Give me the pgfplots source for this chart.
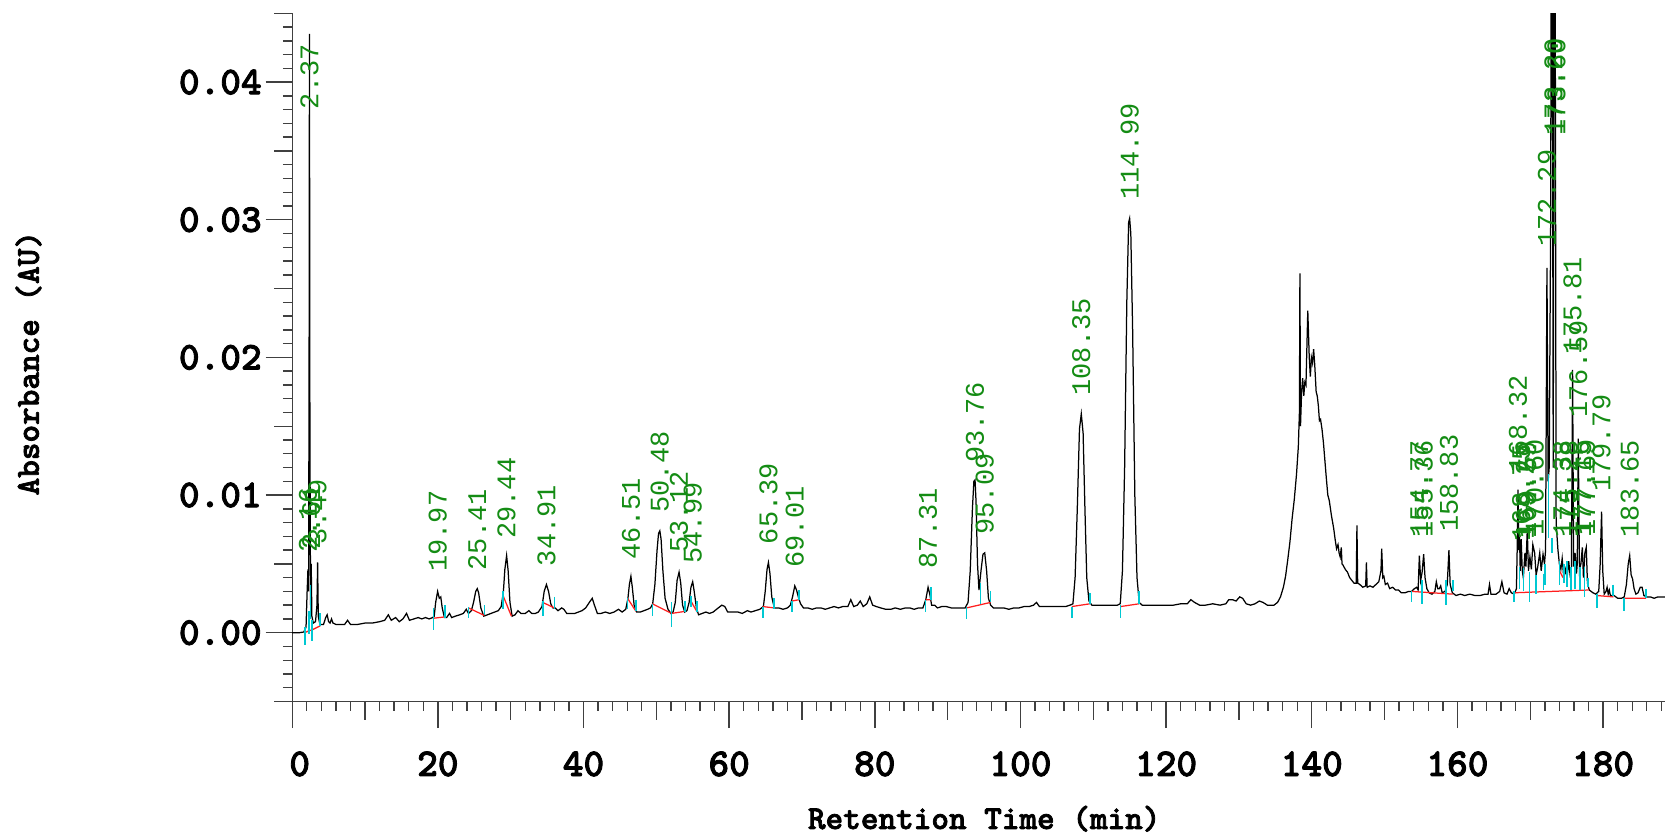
\documentclass[border=0pt]{standalone}
\usepackage{pgfplots}
\pgfplotsset{compat=1.18}
\usepackage{fontspec}
\newfontfamily\pkfont{Liberation Mono}
\newfontfamily\courb{lmmonolt10-bold}[Extension=.otf, FakeBold=2.2]
\definecolor{pkgreen}{RGB}{20,140,20}
\definecolor{mkcyan}{RGB}{0,200,210}
\definecolor{blred}{RGB}{255,30,30}
\begin{document}
\begin{tikzpicture}
\begin{axis}[
 at={(0,0)}, anchor=south west,
 width=494.7pt, height=248pt, scale only axis,
 xmin=0, xmax=188.5, ymin=-0.005, ymax=0.045,
 axis x line*=bottom, axis y line*=left,
 axis line style={black!75, line width=0.5pt},
 tick style={black!75, line width=0.5pt},
 tick align=outside,
 major tick length=9.6pt, minor tick length=3.4pt,
 xtick={0,20,...,180}, minor xtick={0,2,...,188},
 xticklabels={\hspace*{5.4pt}0,20,40,60,80,100,120,140,160,180},
 extra x ticks={10,30,50,70,90,110,130,150,170},
 extra x tick labels={},
 extra x tick style={major tick length=6.5pt},
 ytick={0,0.01,0.02,0.03,0.04},
 minor ytick={-0.005,-0.004,...,0.045},
 extra y ticks={-0.005,0.005,0.015,0.025,0.035,0.045},
 extra y tick labels={},
 extra y tick style={major tick length=6.5pt},
 scaled y ticks=false,
 /pgf/number format/assume math mode=true,
 tick label style={font=\courb\fontsize{14.2}{16}\selectfont},
 yticklabel style={/pgf/number format/fixed, /pgf/number format/fixed zerofill, /pgf/number format/precision=2, inner sep=0pt, xshift=-1.2pt},
 xticklabel style={inner sep=0pt, yshift=-8.2pt},
 xlabel={Retention Time (min)}, ylabel={Absorbance (AU)},
 label style={font=\courb\fontsize{12.1}{14}\selectfont},
 xlabel style={at={(axis description cs:0.5041,-0.1703)}, anchor=center},
 ylabel style={at={(axis description cs:-0.1921,0.4916)}, anchor=center},
 unbounded coords=jump,
]
% chromatogram trace
\addplot[black, line width=0.45pt] coordinates {
(0,0) (1.0,0) (1.6,0.00005) (1.9,0.0004) (2.05,0.003) (2.16,0.0046) (2.25,0.003) (2.32,0.02) (2.37,0.0435) (2.43,0.015) (2.52,0.002) (2.61,0.005) (2.70,0.0012) (2.9,0.0007) (3.2,0.0008) (3.40,0.002) (3.49,0.0051) (3.58,0.0012) (3.8,0.0006) (4.3,0.0006) (4.6,0.0011) (4.8,0.0013) (5.0,0.0008) (5.2,0.0007) (5.4,0.0010) (5.6,0.0007) (6.0,0.0006) (6.5,0.0006) (7.2,0.0006) (7.6,0.0009) (8.0,0.0006) (9,0.0006) (10,0.0007) (11,0.0007) (12,0.0008) (12.7,0.0009) (13.2,0.0013) (13.6,0.0009) (14.2,0.0011) (14.7,0.0008) (15.2,0.0010) (15.7,0.0014) (16.1,0.0009) (16.7,0.0010) (17.3,0.0011) (17.8,0.0010) (18.3,0.0011) (18.8,0.0010) (19.3,0.0011)
(19.5,0.0012) (19.7,0.0022) (19.97,0.0030) (20.2,0.0025) (20.4,0.0026) (20.6,0.0018) (20.9,0.0011) (21.2,0.0011) (21.6,0.0014) (21.9,0.0011) (22.4,0.0012) (23.0,0.0013) (23.5,0.0014) (23.9,0.0017) (24.2,0.0014) (24.6,0.0016) (24.9,0.0022) (25.2,0.0030) (25.41,0.0032) (25.6,0.0029) (25.9,0.0018) (26.3,0.0012) (26.8,0.0013) (27.3,0.0014) (27.8,0.0015) (28.3,0.0016) (28.7,0.0019) (29.0,0.0030) (29.2,0.0046) (29.44,0.0056) (29.65,0.0045) (29.9,0.0022) (30.2,0.0012) (30.6,0.0013) (31.0,0.0016) (31.4,0.0014) (32.0,0.0014) (32.5,0.0016) (32.9,0.0014) (33.4,0.0014) (33.8,0.0015) (34.3,0.0019) (34.6,0.0030) (34.91,0.0035) (35.2,0.0030) (35.5,0.0021) (35.8,0.0018) (36.1,0.0018) (36.5,0.0016) (37.0,0.0018)
(37.3,0.0017) (37.7,0.0014) (38.3,0.0014) (38.8,0.0014) (39.3,0.0015) (39.8,0.0016) (40.3,0.0018) (40.8,0.0022) (41.2,0.0025) (41.5,0.0020) (41.9,0.0014) (42.4,0.0014) (43.0,0.0015) (43.6,0.0014) (44.2,0.0015) (44.8,0.0017) (45.3,0.0015) (45.8,0.0017) (46.1,0.0025) (46.3,0.0035) (46.51,0.0041) (46.7,0.0033) (46.95,0.0020) (47.3,0.0015) (47.8,0.0015) (48.3,0.0016) (48.8,0.0017) (49.2,0.0018) (49.5,0.0021) (49.8,0.0035) (50.1,0.0060) (50.3,0.0072) (50.48,0.0074) (50.65,0.0068) (50.9,0.0045) (51.2,0.0025) (51.6,0.0017) (52.0,0.0014) (52.3,0.0015) (52.6,0.0022) (52.85,0.0038) (53.12,0.0044) (53.35,0.0036) (53.6,0.0020) (53.9,0.0015) (54.2,0.0016) (54.5,0.0022) (54.75,0.0033) (54.99,0.0037) (55.2,0.0030) (55.5,0.0018) (55.8,0.0013) (56.3,0.0014) (56.8,0.0015) (57.3,0.0014) (57.8,0.0015) (58.5,0.0018) (59.0,0.0020) (59.4,0.0019) (59.8,0.0015) (60.5,0.0015) (61.2,0.0015) (61.8,0.0014) (62.5,0.0016) (63.0,0.0015) (63.6,0.0016) (64.2,0.0017) (64.7,0.0019) (64.95,0.0030) (65.2,0.0046) (65.39,0.0051) (65.6,0.0043) (65.85,0.0026) (66.2,0.0018) (66.8,0.0018) (67.4,0.0017) (68.0,0.0018) (68.4,0.0020) (68.7,0.0026) (69.01,0.0034) (69.25,0.0031) (69.5,0.0026) (69.8,0.0021) (70.2,0.0018)
(70.8,0.0018) (71.4,0.0017) (72.0,0.0018) (72.6,0.0018) (73.2,0.0017) (73.8,0.0018) (74.4,0.0019) (75.0,0.0018) (75.6,0.0019) (76.3,0.0019) (76.7,0.0024) (77.1,0.0019) (77.6,0.0020) (78.0,0.0023) (78.4,0.0019) (78.9,0.0021) (79.3,0.0026) (79.7,0.0020) (80.2,0.0019) (80.8,0.0018) (81.5,0.0017) (82.2,0.0017) (82.8,0.0018) (83.5,0.0017) (84.2,0.0018) (84.8,0.0018) (85.4,0.0017) (86.0,0.0018) (86.6,0.0018) (87.0,0.0024) (87.31,0.0033) (87.55,0.0028) (87.8,0.0020) (88.2,0.0020) (88.6,0.0018) (89.2,0.0019) (89.8,0.0019) (90.5,0.0018) (91.2,0.0018) (91.8,0.0018) (92.4,0.0018) (92.8,0.0022) (93.1,0.0045) (93.4,0.0090) (93.6,0.0110) (93.76,0.0111) (93.9,0.0095) (94.1,0.0050) (94.3,0.0031) (94.6,0.0046) (94.85,0.0057) (95.09,0.0058) (95.35,0.0045) (95.6,0.0025) (95.9,0.0020) (96.3,0.0018) (97.0,0.0018) (97.7,0.0018) (98.4,0.0017) (99.1,0.0018) (99.8,0.0018) (100.5,0.0019) (101.2,0.0019) (101.8,0.0020) (102.2,0.0022) (102.6,0.0019) (103.2,0.0019) (104.0,0.0019) (104.8,0.0019) (105.5,0.0019) (106.2,0.0019) (106.8,0.0020) (107.2,0.0021) (107.5,0.0040) (107.8,0.0090) (108.1,0.0148) (108.35,0.0159) (108.6,0.0145) (108.85,0.0090) (109.1,0.0040) (109.4,0.0023) (109.8,0.0020) (110.5,0.0020) (111.2,0.0020) (112.0,0.0020) (112.7,0.0020) (113.3,0.0020) (113.7,0.0021) (114.0,0.0045) (114.3,0.0120) (114.6,0.0240) (114.85,0.0298) (114.99,0.0301) (115.15,0.0290) (115.4,0.0220) (115.7,0.0100) (116.0,0.0040) (116.3,0.0022) (116.7,0.0020) (117.4,0.0020) (118.2,0.0020) (119,0.0020) (120,0.0020) (121,0.0020) (122,0.0021) (122.9,0.0021) (123.4,0.0024) (123.9,0.0022) (124.6,0.0020) (125.4,0.0020) (126.4,0.0021) (127.4,0.0020) (128.2,0.0021) (128.6,0.0024) (129.1,0.0024) (129.6,0.0023) (130.1,0.0026) (130.5,0.0025) (131.0,0.0021) (131.6,0.0020) (132.2,0.0021) (132.8,0.0023) (133.3,0.0022) (133.9,0.0020) (134.5,0.0020)
(134.8,0.0020) (135.3,0.0022) (135.7,0.0026) (136.1,0.0033) (136.4,0.0041) (136.7,0.0053) (137.0,0.0066) (137.3,0.0083) (137.6,0.0097) (137.9,0.0115) (138.15,0.0135) (138.3,0.0160) (138.37,0.0261) (138.45,0.0150) (138.6,0.0175) (138.75,0.0185) (138.9,0.0172) (139.05,0.0182) (139.2,0.0180) (139.45,0.0234) (139.65,0.0200) (139.8,0.0186) (139.95,0.0200) (140.1,0.0196) (140.25,0.0206) (140.4,0.0195) (140.6,0.0175) (140.75,0.0172) (140.9,0.0165) (141.05,0.0154) (141.2,0.0155) (141.4,0.0148) (141.6,0.0138) (141.8,0.0125) (142.0,0.0112) (142.2,0.0100) (142.4,0.0096) (142.7,0.0085) (143.0,0.0076) (143.2,0.0068) (143.4,0.0061) (143.6,0.0064) (143.75,0.0058) (143.9,0.0055) (144.05,0.0062) (144.15,0.0050) (144.3,0.0049) (144.6,0.0046) (144.9,0.0044) (145.2,0.0040) (145.5,0.0038) (145.8,0.0036) (146.1,0.0036) (146.2,0.0078) (146.3,0.0036) (146.6,0.0035) (147.0,0.0033) (147.4,0.0034) (147.5,0.0051) (147.6,0.0033) (148.0,0.0034) (148.4,0.0033) (148.8,0.0035) (149.2,0.0037) (149.5,0.0045) (149.6,0.0061) (149.75,0.0040) (149.9,0.0041) (150.1,0.0035) (150.4,0.0036) (150.7,0.0032) (151.1,0.0033) (151.5,0.0031) (151.9,0.0031) (152.3,0.0029) (152.8,0.0029) (153.3,0.0030) (153.7,0.0030) (154.1,0.0032) (154.4,0.0033) (154.6,0.0031) (154.77,0.0056) (154.95,0.0038) (155.15,0.0044) (155.36,0.0057) (155.55,0.0040) (155.8,0.0032) (156.1,0.0029) (156.5,0.0028) (156.9,0.0030) (157.1,0.0037) (157.3,0.0032) (157.5,0.0032) (157.7,0.0034) (157.9,0.0029) (158.3,0.0030) (158.6,0.0035) (158.83,0.0060) (159.0,0.0035) (159.3,0.0029) (159.8,0.0027) (160.4,0.0028) (161,0.0027) (161.7,0.0028) (162.4,0.0027) (163.1,0.0027) (163.8,0.0028) (164.2,0.0028) (164.4,0.0035) (164.6,0.0028) (165.3,0.0028) (165.8,0.0030) (166.1,0.0037) (166.4,0.0029) (166.8,0.0028) (167.1,0.0032) (167.4,0.0029) (167.8,0.0028)
(168.1,0.0032) (168.2,0.0060) (168.32,0.0104) (168.42,0.0060) (168.52,0.0072) (168.62,0.0045) (168.75,0.0068) (168.9,0.0045) (169.05,0.0040) (169.27,0.0058) (169.4,0.0048) (169.59,0.0075) (169.75,0.0045) (169.95,0.0055) (170.15,0.0046) (170.35,0.0064) (170.6,0.0058) (170.8,0.0042) (171.0,0.0047) (171.3,0.0058) (171.5,0.0045) (171.75,0.0057) (171.95,0.0050) (172.1,0.0060) (172.29,0.0265) (172.45,0.0110) (172.6,0.0120) (172.8,0.0300) (172.95,0.0700) (173.15,0.0120) (173.35,0.0700) (173.55,0.0080) (173.8,0.0060) (174.0,0.0050) (174.2,0.0046) (174.38,0.0054) (174.6,0.0040) (174.85,0.0046) (175.05,0.0040) (175.28,0.0052) (175.5,0.0040) (175.65,0.0048) (175.81,0.0191) (175.95,0.0048) (176.15,0.0058) (176.35,0.0043) (176.45,0.0050) (176.59,0.0141) (176.75,0.0045) (176.95,0.0050) (177.15,0.0062) (177.3,0.0040) (177.5,0.0058) (177.69,0.0062) (177.85,0.0036) (178.1,0.0031) (178.6,0.0029) (179.0,0.0028) (179.4,0.0030) (179.6,0.0050) (179.79,0.0088) (179.95,0.0045) (180.15,0.0028) (180.4,0.0030) (180.55,0.0033) (180.7,0.0028) (180.85,0.0031) (181.0,0.0027) (181.5,0.0027) (182.0,0.0025) (182.5,0.0025) (182.9,0.0026) (183.2,0.0035) (183.45,0.0050) (183.65,0.0056) (183.85,0.0042) (184.05,0.0039) (184.25,0.0032) (184.5,0.0028) (184.8,0.0029) (185.1,0.0033) (185.35,0.0033) (185.6,0.0027) (186.0,0.0026) (186.5,0.0026) (187.0,0.0025) (187.5,0.0026) (188.5,0.0026)
};
% integration baselines
\addplot[blred, line width=0.45pt] coordinates {
(1.74,0.0000) (2.33,0.00015) (2.72,0.0002) (3.85,0.0005) (3.85,nan)
(19.4,0.00105) (21.0,0.00115) (21.0,nan)
(24.2,0.0018) (26.4,0.00125) (26.4,nan)
(28.95,0.0027) (30.1,0.0012) (30.1,nan)
(34.4,0.0022) (36.0,0.0018) (36.0,nan)
(46.05,0.0025) (47.2,0.00155) (47.2,nan)
(49.45,0.0021) (52.1,0.0014) (53.95,0.00155) (53.95,nan)
(54.75,0.0023) (55.6,0.0015) (55.6,nan)
(64.6,0.0019) (66.15,0.0018) (66.15,nan)
(68.65,0.0023) (69.6,0.0024) (69.6,nan)
(86.97,0.0024) (87.7,0.0024) (87.7,nan)
(92.6,0.0018) (95.9,0.0022) (95.9,nan)
(107.05,0.0019) (109.55,0.0021) (109.55,nan)
(113.75,0.0019) (116.3,0.0021) (116.3,nan)
(153.7,0.0030) (159.35,0.0028) (159.35,nan)
(167.8,0.0029) (178.0,0.0031) (178.0,nan)
(174.0,0.0045) (174.5,0.0040) (174.5,nan)
(179.13,0.0027) (181.4,0.0026) (181.4,nan)
(182.9,0.0025) (185.9,0.0025)
};
% peak start/end marks
\addplot[mkcyan, line width=0.6pt] coordinates {
(1.75,0.0004) (1.75,-0.0009) (1.75,nan)
(2.3,0.0016) (2.3,-0.0001) (2.3,nan)
(2.5,0.0035) (2.5,0.0010) (2.5,nan)
(2.72,0.0009) (2.72,-0.0006) (2.72,nan)
(3.85,0.0014) (3.85,0.0005) (3.85,nan)
(19.4,0.0018) (19.4,0.0002) (19.4,nan)
(21.0,0.0020) (21.0,0.0011) (21.0,nan)
(24.2,0.0019) (24.2,0.0011) (24.2,nan)
(26.4,0.0020) (26.4,0.0013) (26.4,nan)
(28.95,0.0030) (28.95,0.0017) (28.95,nan)
(34.4,0.0023) (34.4,0.0012) (34.4,nan)
(36.0,0.0026) (36.0,0.0017) (36.0,nan)
(46.05,0.0025) (46.05,0.0017) (46.05,nan)
(47.2,0.0024) (47.2,0.0016) (47.2,nan)
(49.45,0.0021) (49.45,0.0012) (49.45,nan)
(52.1,0.0022) (52.1,0.0004) (52.1,nan)
(53.95,0.0023) (53.95,0.0015) (53.95,nan)
(54.75,0.0027) (54.75,0.0019) (54.75,nan)
(55.6,0.0023) (55.6,0.0015) (55.6,nan)
(64.6,0.0019) (64.6,0.0011) (64.6,nan)
(66.15,0.0025) (66.15,0.0017) (66.15,nan)
(68.65,0.0023) (68.65,0.0015) (68.65,nan)
(69.6,0.0031) (69.6,0.0024) (69.6,nan)
(86.97,0.0024) (86.97,0.0015) (86.97,nan)
(87.7,0.0033) (87.7,0.0024) (87.7,nan)
(92.6,0.0019) (92.6,0.0010) (92.6,nan)
(94.5,0.0036) (94.5,0.0021) (94.5,nan)
(95.9,0.0030) (95.9,0.0022) (95.9,nan)
(107.05,0.0019) (107.05,0.0011) (107.05,nan)
(109.55,0.0029) (109.55,0.0021) (109.55,nan)
(113.75,0.0020) (113.75,0.0011) (113.75,nan)
(116.3,0.0030) (116.3,0.0021) (116.3,nan)
(153.7,0.0030) (153.7,0.0022) (153.7,nan)
(155.1,0.0038) (155.1,0.0021) (155.1,nan)
(158.45,0.0038) (158.45,0.0020) (158.45,nan)
(159.35,0.0038) (159.35,0.0030) (159.35,nan)
(167.8,0.0030) (167.8,0.0022) (167.8,nan)
(168.5,0.0048) (168.5,0.0032) (168.5,nan)
(169.05,0.0047) (169.05,0.0030) (169.05,nan)
(169.9,0.0044) (169.9,0.0022) (169.9,nan)
(170.8,0.0042) (170.8,0.0028) (170.8,nan)
(171.8,0.0043) (171.8,0.0031) (171.8,nan)
(172.0,0.0050) (172.0,0.0035) (172.0,nan)
(172.5,0.0115) (172.5,0.0069) (172.5,nan)
(173.0,0.0069) (173.0,0.0058) (173.0,nan)
(174.0,0.0052) (174.0,0.0035) (174.0,nan)
(174.6,0.0050) (174.6,0.0036) (174.6,nan)
(175.0,0.0052) (175.0,0.0033) (175.0,nan)
(175.55,0.0048) (175.55,0.0031) (175.55,nan)
(176.15,0.0052) (176.15,0.0032) (176.15,nan)
(176.85,0.0048) (176.85,0.0031) (176.85,nan)
(177.45,0.0048) (177.45,0.0026) (177.45,nan)
(177.95,0.0040) (177.95,0.0033) (177.95,nan)
(179.13,0.0028) (179.13,0.0018) (179.13,nan)
(181.4,0.0035) (181.4,0.0027) (181.4,nan)
(182.9,0.0025) (182.9,0.0016) (182.9,nan)
(185.9,0.0032) (185.9,0.0025)
};
% peak labels
\tikzset{pk/.style={rotate=90, anchor=west, inner sep=0pt, text=pkgreen, font=\pkfont\fontsize{9.7}{11}\selectfont}}
\node[pk] at (axis cs:2.16,0.0058) {2.16};
\node[pk] at (axis cs:2.37,0.0380) {2.37};
\node[pk] at (axis cs:2.61,0.0060) {2.61};
\node[pk] at (axis cs:3.49,0.0064) {3.49};
\node[pk] at (axis cs:19.97,0.0044) {19.97};
\node[pk] at (axis cs:25.41,0.0045) {25.41};
\node[pk] at (axis cs:29.44,0.0068) {29.44};
\node[pk] at (axis cs:34.91,0.0048) {34.91};
\node[pk] at (axis cs:46.51,0.0053) {46.51};
\node[pk] at (axis cs:50.48,0.0087) {50.48};
\node[pk] at (axis cs:53.12,0.0058) {53.12};
\node[pk] at (axis cs:54.99,0.0050) {54.99};
\node[pk] at (axis cs:65.39,0.0064) {65.39};
\node[pk] at (axis cs:69.01,0.0047) {69.01};
\node[pk] at (axis cs:87.31,0.0046) {87.31};
\node[pk] at (axis cs:93.76,0.0123) {93.76};
\node[pk] at (axis cs:95.09,0.0071) {95.09};
\node[pk] at (axis cs:108.35,0.0172) {108.35};
\node[pk] at (axis cs:114.99,0.0314) {114.99};
\node[pk] at (axis cs:154.77,0.0069) {154.77};
\node[pk] at (axis cs:155.36,0.0069) {155.36};
\node[pk] at (axis cs:158.83,0.0073) {158.83};
\node[pk] at (axis cs:168.32,0.0116) {168.32};
\node[pk] at (axis cs:168.75,0.0066) {168.75};
\node[pk] at (axis cs:169.27,0.0067) {169.27};
\node[pk] at (axis cs:169.59,0.0068) {169.59};
\node[pk] at (axis cs:170.60,0.0070) {170.60};
\node[pk] at (axis cs:172.29,0.0280) {172.29};
\node[pk] at (axis cs:173.20,0.0361) {173.20};
\node[pk] at (axis cs:173.60,0.0361) {173.60};
\node[pk] at (axis cs:174.38,0.0069) {174.38};
\node[pk] at (axis cs:175.28,0.0069) {175.28};
\node[pk] at (axis cs:175.81,0.0202) {175.81};
\node[pk] at (axis cs:176.59,0.0156) {176.59};
\node[pk] at (axis cs:177.15,0.0069) {177.15};
\node[pk] at (axis cs:177.69,0.0070) {177.69};
\node[pk] at (axis cs:179.79,0.0102) {179.79};
\node[pk] at (axis cs:183.65,0.0069) {183.65};
\end{axis}
\pgfresetboundingbox
\path[use as bounding box] (-105.3pt,-48.4pt) rectangle (494.7pt,252.8pt);
\end{tikzpicture}
\end{document}
